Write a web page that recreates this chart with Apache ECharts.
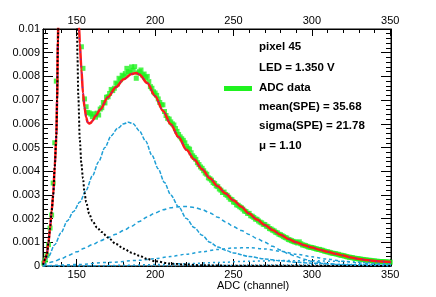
<!DOCTYPE html>
<html><head><meta charset="utf-8">
<script src="https://cdn.jsdelivr.net/npm/echarts@6/dist/echarts.min.js"></script>
<style>html,body{margin:0;padding:0;background:#fff}#c{width:436px;height:297px}</style>
</head><body><div id="c"></div>
<script>
// ---------- data ----------
const X_MIN = 128.5, X_MAX = 350.5;
const xMajorTicks = [150, 200, 250, 300, 350];
const xMinorTicks = [130,140,160,170,180,190,210,220,230,240,260,270,280,290,310,320,330,340];
const yTickLabels = ['0','0.001','0.002','0.003','0.004','0.005','0.006','0.007','0.008','0.009','0.01'];

// ADC histogram, one value per channel, first channel = 129
const adcFirstChannel = 129;
const adcValues = [
 .00012,.00025,.00045,.0009,.0016,.00215,.0035,.0052,.0078,.0115,
 .016,.022,.028,.033,.037,.039,.04,.039,.036,.03,
 .024,.018,.0135,.0108,.00925,.00834,.00705,.00672,.00648,.00646,
 .00641,.0063,.00642,.00628,.00645,.00637,.00662,.00668,.0069,.00688,
 .00712,.00714,.00728,.00745,.0074,.0075,.00772,.00768,.00792,.00786,
 .00805,.008,.00812,.00834,.0082,.00818,.0084,.00826,.00841,.00792,
 .00815,.0082,.00827,.00806,.0081,.00795,.008,.00778,.00757,.0075,
 .00735,.0073,.0072,.00705,.0069,.0068,.0068,.00652,.00635,.00623,
 .0062,.00608,.006,.00595,.0058,.00568,.00555,.00545,.00537,.0053,
 .0052,.00505,.00497,.00493,.00478,.00465,.00458,.0045,.00436,.00428,
 .00418,.00412,.00402,.00392,.00387,.00372,.00368,.00362,.00352,.00348,
 .00338,.00335,.00325,.0032,.0031,.00312,.00302,.00298,.0029,.00282,
 .0028,.0027,.00268,.00258,.00256,.0025,.00246,.0024,.00232,.0023,
 .00222,.00222,.00212,.0021,.00205,.00198,.00197,.0019,.00185,.00182,
 .00176,.00175,.00168,.00166,.00158,.00156,.00151,.00148,.00142,.0014,
 .00134,.00132,.00128,.00124,.0012,.00118,.00112,.0011,.00107,.00104,
 .00102,.001,.00097,.00102,.00094,.00089,.00088,.00086,.00083,.0008,
 .00079,.00078,.00076,.00074,.00072,.0007,.0007,.00067,.00066,.00063,
 .00061,.0006,.00058,.00056,.00054,.00053,.00052,.0005,.00049,.00046,
 .00045,.00044,.00042,.0004,.00038,.00037,.00036,.00035,.00033,.00032,
 .00031,.0003,.00029,.00028,.00027,.00026,.00025,.00024,.00024,.00022,
 .00022,.00021,.0002,.0002,.00019,.00019,.00018,.00018,.00017,.00017,
 .00016,.00016
];

// total fit
const totalX = [128.5,130,131,132,133,134,135,136,137,137.5,138,139,140,142,145,148,150,151,151.5,152,153,154,155,156,157,158,159,160,162,165,170,175,180,185,188,190,195,200,205,210,215,220,225,230,235,240,245,250,255,260,265,270,275,280,285,290,295,300,305,310,315,320,325,330,335,340,345,350.5];
const totalY = [.0001,.0003,.0005,.001,.0016,.0023,.003,.0042,.0055,.007,.0095,.016,.024,.035,.045,.035,.02,.013,.0101,.0094,.0083,.0073,.0067,.00628,.00606,.00601,.00604,.00612,.00633,.0066,.00713,.00754,.00788,.0081,.00814,.00808,.00772,.00717,.00655,.00598,.00544,.0049,.00449,.00408,.0037,.00336,.00306,.00277,.0025,.00221,.00196,.00173,.00152,.00132,.00114,.001,.00088,.00078,.00069,.0006,.00052,.00044,.00036,.0003,.00025,.00021,.00019,.00017];

// pedestal component
const pedX = [128.5,130,131,132,133,134,135,136,137,137.5,138,139,140,142,145,148,149,150,150.5,151,152,153,154,155,156,158,160,163,166,170,175,180,185,190,195,200,210,220,230,250,350.5];
const pedY = [.00005,.0003,.0005,.001,.0016,.0023,.003,.0042,.0055,.007,.0095,.016,.024,.035,.045,.035,.025,.0112,.0088,.0072,.0053,.0043,.0037,.0031,.0027,.0022,.0019,.00162,.00143,.0012,.00093,.00073,.00056,.00043,.0003,.0002,.0001,.00006,.00003,.00001,0];

// 1 p.e. component
const pe1X = [128.5,132,136,140,144,148,152,156,160,164,168,172,176,180,183,186,190,194,198,202,206,210,215,220,225,230,235,240,245,250,260,270,280,290,300,320,350.5];
const pe1Y = [.00005,.0004,.0009,.0014,.0019,.0023,.0027,.0032,.0038,.0044,.005,.0055,.0058,.006,.00607,.006,.0057,.00527,.00467,.0041,.00352,.003,.0025,.002,.00162,.0013,.001,.0008,.00066,.00055,.0004,.0003,.00022,.00016,.00012,.00006,.00002];

// 2 p.e. component
const pe2X = [128.5,135,140,145,150,155,160,165,170,175,180,185,190,195,200,205,210,215,220,225,230,235,240,245,250,255,260,265,270,275,280,285,290,295,300,310,320,335,350.5];
const pe2Y = [.00002,.00018,.0003,.00045,.0006,.00075,.0009,.00106,.0012,.00134,.0015,.00168,.00188,.00207,.00224,.00237,.00246,.0025,.00251,.00247,.00238,.00224,.00206,.00186,.00166,.0015,.00133,.00116,.001,.00083,.00067,.00052,.0004,.00029,.0002,.0001,.00005,.00002,.00001];

// 3 p.e. component
const pe3X = [128.5,150,170,190,200,210,220,230,240,250,260,270,280,290,300,310,320,330,340,350.5];
const pe3Y = [0,.00006,.00015,.00024,.00031,.0004,.0005,.0006,.0007,.00076,.00077,.00072,.00062,.0005,.00039,.00029,.0002,.00013,.00008,.00005];

// 4 p.e. component
const pe4X = [128.5,160,180,200,220,240,260,280,300,320,340,350.5];
const pe4Y = [0,.00001,.00003,.00006,.0001,.00015,.0002,.00023,.00022,.00019,.00013,.0001];

// 5 p.e. component
const pe5X = [128.5,200,240,280,310,330,350.5];
const pe5Y = [0,.00001,.00003,.00005,.00006,.00006,.00005];

const legendLines = ['pixel 45', 'LED = 1.350 V', 'ADC data', 'mean(SPE) = 35.68', 'sigma(SPE) = 21.78', 'μ = 1.10'];
const xTitle = 'ADC (channel)';

// ---------- build ----------
const zip = (xs, ys) => xs.map((x, i) => [x, ys[i]]);
const adcData = adcValues.map((v, i) => [adcFirstChannel + i, v]);
const FONT = '"Liberation Sans", Arial, sans-serif';
const BLUE = '#1f9fd6';

function xAx(pos, ticks, len, labels) {
  return {
    type: 'value', min: X_MIN, max: X_MAX, position: pos,
    axisLine: { show: labels, onZero: false, lineStyle: { color: '#000', width: 1 } },
    axisTick: { show: true, inside: true, length: len, customValues: ticks, lineStyle: { color: '#000', width: 1 } },
    axisLabel: { show: labels, customValues: ticks, margin: 3, fontSize: 11, color: '#000', fontFamily: FONT },
    splitLine: { show: false }
  };
}
function yAx(pos, labels) {
  return {
    type: 'value', min: 0, max: 0.01, interval: 0.001, position: pos,
    axisLine: { show: true, onZero: false, lineStyle: { color: '#000', width: 1 } },
    axisTick: { show: true, inside: true, length: 10, lineStyle: { color: '#000' } },
    minorTick: { show: true, splitNumber: 5, length: 5, lineStyle: { color: '#000' } },
    axisLabel: { show: labels, margin: 3, fontSize: 11, color: '#000', fontFamily: FONT,
      formatter: v => yTickLabels[Math.round(v / 0.001)] },
    splitLine: { show: false }, minorSplitLine: { show: false }
  };
}
function curve(data, color, width, type, z) {
  return { type: 'line', data, xAxisIndex: 0, yAxisIndex: 0, showSymbol: false, symbol: 'none',
    smooth: 0.3, smoothMonotone: 'x', clip: true, z,
    lineStyle: { color, width, type }, silent: true };
}

const chart = echarts.init(document.getElementById('c'), null, { renderer: 'canvas' });
const legendY = [48, 69, 89, 108, 127, 147];
chart.setOption({
  animation: false,
  grid: { left: 43, right: 45, top: 29, bottom: 31, show: true, borderColor: '#000', borderWidth: 1, backgroundColor: 'transparent' },
  xAxis: [xAx('bottom', xMajorTicks, 7, true), xAx('bottom', xMinorTicks, 4, false),
          xAx('top', xMajorTicks, 7, true), xAx('top', xMinorTicks, 4, false)],
  yAxis: [yAx('left', true), yAx('right', false)],
  series: [
    { type: 'scatter', data: adcData, symbol: 'rect', symbolSize: 5, itemStyle: { color: '#1ff21f' }, clip: true, z: 1, silent: true },
    curve(zip(pe5X, pe5Y), BLUE, 1.5, [1, 3], 2),
    curve(zip(pe4X, pe4Y), BLUE, 1.5, [2, 3], 2),
    curve(zip(pe3X, pe3Y), BLUE, 1.5, [3, 3], 2),
    curve(zip(pe2X, pe2Y), BLUE, 1.5, [4, 3], 2),
    curve(zip(pe1X, pe1Y), BLUE, 1.5, [4, 1.5], 2),
    curve(zip(totalX, totalY), '#ff1a1a', 2.5, 'solid', 4),
    curve(zip(totalX, totalY), '#3333ff', 1, [1, 6], 5),
    curve(zip(pedX, pedY), '#000', 2, [2, 2], 6)
  ],
  graphic: [
    { type: 'rect', left: 224, top: 86, shape: { width: 28, height: 5 }, style: { fill: '#1ff21f' }, z: 10 },
    ...legendLines.map((t, i) => ({ type: 'text', left: 259, top: legendY[i] - 7, z: 10,
      style: { text: t, fill: '#000', font: 'bold 11.5px ' + FONT } })),
    { type: 'text', left: 217, top: 280, z: 10, style: { text: xTitle, fill: '#000', font: '11px ' + FONT, textAlign: 'center' } }
  ]
});
</script></body></html>
